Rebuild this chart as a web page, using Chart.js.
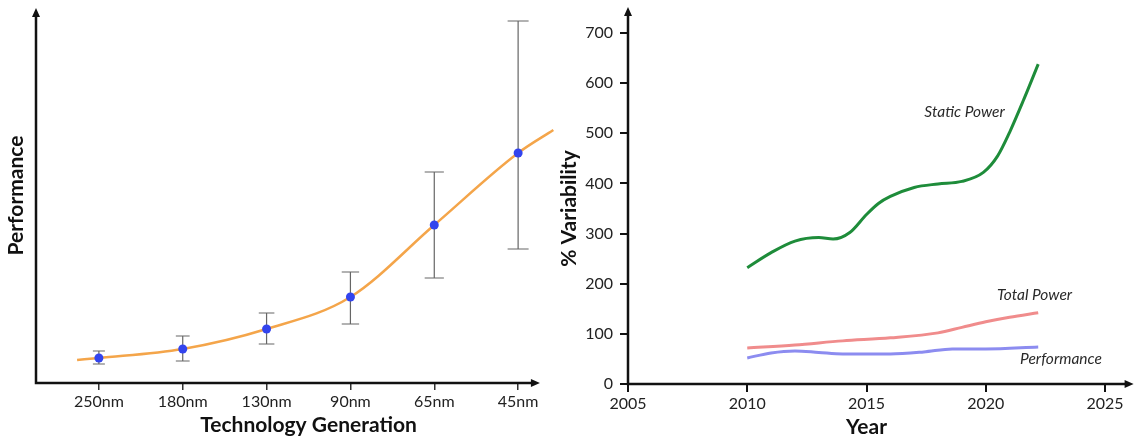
<!DOCTYPE html>
<html>
<head>
<meta charset="utf-8">
<script src="https://cdn.jsdelivr.net/npm/chart.js@4.4.1/dist/chart.umd.min.js"></script>
<style>
  html, body { margin: 0; padding: 0; background: #fff; }
  body { width: 1135px; height: 440px; position: relative; overflow: hidden; }
  #techWrap { position: absolute; left: 0; top: 0; width: 600px; height: 440px; }
  #yearWrap { position: absolute; left: 555px; top: 0; width: 580px; height: 440px; }
</style>
</head>
<body>
<div id="techWrap"><canvas id="techChart"></canvas></div>
<div id="yearWrap"><canvas id="yearChart"></canvas></div>
<script>
// left: performance per technology generation (no units on the y axis)
const techGenerations = ['250nm', '180nm', '130nm', '90nm', '65nm', '45nm'];
const perfMean = [25, 34, 54, 86, 158, 230];
const perfLow = [19, 22, 39, 59, 105, 134];
const perfHigh = [32, 47, 70, 111, 211, 362];
// smooth trend line, x = generation index
const trendX = [-0.26, 0, 1, 2, 3, 4, 5, 5.42];
const trendY = [23, 25, 34, 54, 86, 158, 230, 253];

// right: % variability by year
const seriesNames = ['Static Power', 'Total Power', 'Performance'];
const staticYears = [2010, 2011, 2012, 2013, 2013.6, 2014.3, 2015, 2015.5, 2016, 2017, 2018, 2019, 2019.9, 2020.5, 2021, 2021.6, 2022.2];
const staticVals = [232, 262, 285, 292, 289, 302, 338, 360, 374, 392, 399, 404, 422, 455, 502, 568, 638];
const totalYears = [2010, 2012, 2014, 2016, 2018, 2019, 2020, 2021, 2022.2];
const totalVals = [72, 78, 86, 92, 102, 113, 124, 133, 142];
const perfYears = [2010, 2011, 2012, 2013, 2014, 2016, 2017.4, 2018.6, 2020, 2022.2];
const perfVals = [52, 62, 66, 63, 60, 60, 64, 70, 70, 74];

const toPoints = (xs, ys) => xs.map((x, i) => ({ x: x, y: ys[i] }));

Chart.defaults.font.family = 'Lato, "Open Sans", sans-serif';
Chart.defaults.color = '#222';
Chart.defaults.animation = false;

const titleFont = { size: 21, weight: 'bold' };
const tickFont = { size: 16 };

// axis lines with arrow heads, tips given in scale values
const arrowAxes = {
    id: 'arrowAxes',
    afterDraw(chart, args, opts) {
        const { ctx, scales: { x, y } } = chart;
        const ox = x.getPixelForValue(x.min);
        const oy = y.getPixelForValue(y.min);
        const tipX = x.getPixelForValue(opts.xTip);
        const tipY = y.getPixelForValue(opts.yTip);
        const len = 9, half = 4;
        ctx.save();
        ctx.strokeStyle = '#111';
        ctx.fillStyle = '#111';
        ctx.lineWidth = 2.5;
        ctx.beginPath();
        ctx.moveTo(ox, tipY + len - 1);
        ctx.lineTo(ox, oy);
        ctx.lineTo(tipX - len + 1, oy);
        ctx.stroke();
        ctx.beginPath();
        ctx.moveTo(ox, tipY);
        ctx.lineTo(ox - half, tipY + len);
        ctx.lineTo(ox + half, tipY + len);
        ctx.closePath();
        ctx.moveTo(tipX, oy);
        ctx.lineTo(tipX - len, oy - half);
        ctx.lineTo(tipX - len, oy + half);
        ctx.closePath();
        ctx.fill();
        ctx.restore();
    }
};

// min/max whiskers for the left chart
const errorBars = {
    id: 'errorBars',
    beforeDatasetsDraw(chart, args, opts) {
        if (!opts.enabled) return;
        const { ctx, scales: { x, y } } = chart;
        ctx.save();
        ctx.strokeStyle = '#666';
        ctx.lineWidth = 1.2;
        perfLow.forEach((lo, i) => {
            const px = x.getPixelForValue(i);
            const yLo = y.getPixelForValue(lo);
            const yHi = y.getPixelForValue(perfHigh[i]);
            const cap = 6 + i * 0.9;
            ctx.beginPath();
            ctx.moveTo(px, yLo); ctx.lineTo(px, yHi);
            ctx.moveTo(px - cap, yLo); ctx.lineTo(px + cap, yLo);
            ctx.moveTo(px - cap, yHi); ctx.lineTo(px + cap, yHi);
            ctx.stroke();
        });
        ctx.restore();
    }
};

// italic series names next to the lines
const seriesLabels = {
    id: 'seriesLabels',
    afterDatasetsDraw(chart) {
        const { ctx, scales: { x, y } } = chart;
        ctx.save();
        ctx.font = 'italic 15.5px Lato, "Open Sans", sans-serif';
        ctx.fillStyle = '#2a2a2a';
        ctx.textBaseline = 'middle';
        chart.data.datasets.forEach(ds => {
            if (!ds.labelAt) return;
            ctx.textAlign = ds.labelAt.align;
            ctx.fillText(ds.label, x.getPixelForValue(ds.labelAt.x), y.getPixelForValue(ds.labelAt.y));
        });
        ctx.restore();
    }
};

new Chart(document.getElementById('techChart'), {
    type: 'line',
    data: {
        datasets: [{
            label: 'trend',
            data: toPoints(trendX, trendY),
            borderColor: '#f4a54a',
            borderWidth: 2.5,
            pointRadius: 0,
            cubicInterpolationMode: 'monotone',
            order: 2
        }, {
            label: 'Performance',
            data: toPoints([0, 1, 2, 3, 4, 5], perfMean),
            showLine: false,
            pointRadius: 4.5,
            pointBackgroundColor: '#3344ee',
            pointBorderColor: '#3344ee',
            pointBorderWidth: 0,
            order: 1
        }]
    },
    options: {
        responsive: true,
        maintainAspectRatio: false,
        layout: { padding: { top: 8, left: 0, right: 19, bottom: 0 } },
        plugins: {
            legend: { display: false },
            tooltip: { enabled: false },
            arrowAxes: { xTip: 5.26, yTip: 375 },
            errorBars: { enabled: true }
        },
        scales: {
            x: {
                type: 'linear',
                min: -0.75,
                max: 5.75,
                afterBuildTicks: (s) => { s.ticks = techGenerations.map((t, i) => ({ value: i })); },
                afterFit: (s) => { s.height = 57; },
                border: { display: false },
                grid: { drawOnChartArea: false, drawTicks: true, tickLength: 7, color: '#333', lineWidth: 1.5 },
                ticks: { font: tickFont, padding: 2, maxRotation: 0, autoSkip: false, callback: (v) => techGenerations[v] },
                title: { display: true, text: 'Technology Generation', font: titleFont, color: '#111', padding: { top: 0, bottom: 2 } }
            },
            y: {
                min: 0,
                max: 375,
                afterFit: (s) => { s.width = 36; },
                border: { display: false },
                grid: { display: false },
                ticks: { display: false },
                title: { display: true, text: 'Performance', font: titleFont, color: '#111', padding: { top: 4, bottom: 0 } }
            }
        }
    },
    plugins: [arrowAxes, errorBars]
});

new Chart(document.getElementById('yearChart'), {
    type: 'line',
    data: {
        datasets: [{
            label: seriesNames[0],
            data: toPoints(staticYears, staticVals),
            borderColor: '#1e8c3a',
            borderWidth: 3,
            pointRadius: 0,
            cubicInterpolationMode: 'monotone',
            labelAt: { x: 2020.8, y: 542, align: 'right' }
        }, {
            label: seriesNames[1],
            data: toPoints(totalYears, totalVals),
            borderColor: '#f08c8c',
            borderWidth: 3,
            pointRadius: 0,
            cubicInterpolationMode: 'monotone',
            labelAt: { x: 2020.47, y: 178, align: 'left' }
        }, {
            label: seriesNames[2],
            data: toPoints(perfYears, perfVals),
            borderColor: '#8c8cf0',
            borderWidth: 3,
            pointRadius: 0,
            cubicInterpolationMode: 'monotone',
            labelAt: { x: 2021.44, y: 50, align: 'left' }
        }]
    },
    options: {
        responsive: true,
        maintainAspectRatio: false,
        layout: { padding: { top: 33, left: 0, right: 30, bottom: 0 } },
        plugins: {
            legend: { display: false },
            tooltip: { enabled: false },
            arrowAxes: { xTip: 2026.2, yTip: 752 }
        },
        scales: {
            x: {
                type: 'linear',
                min: 2005,
                max: 2025,
                afterFit: (s) => { s.height = 56; },
                border: { display: false },
                grid: { drawOnChartArea: false, drawTicks: true, tickLength: 8, color: '#111', lineWidth: 2 },
                ticks: { font: tickFont, padding: 2, stepSize: 5, maxRotation: 0, callback: (v) => String(v) },
                title: { display: true, text: 'Year', font: titleFont, color: '#111', padding: { top: 0, bottom: 0 } }
            },
            y: {
                min: 0,
                max: 700,
                afterFit: (s) => { s.width = 73; },
                border: { display: false },
                grid: { drawOnChartArea: false, drawTicks: true, tickLength: 8, color: '#111', lineWidth: 2 },
                ticks: { font: tickFont, padding: 7, stepSize: 100 },
                title: { display: true, text: '% Variability', font: titleFont, color: '#111', padding: { top: 2, bottom: 0 } }
            }
        }
    },
    plugins: [arrowAxes, seriesLabels]
});
</script>
</body>
</html>
